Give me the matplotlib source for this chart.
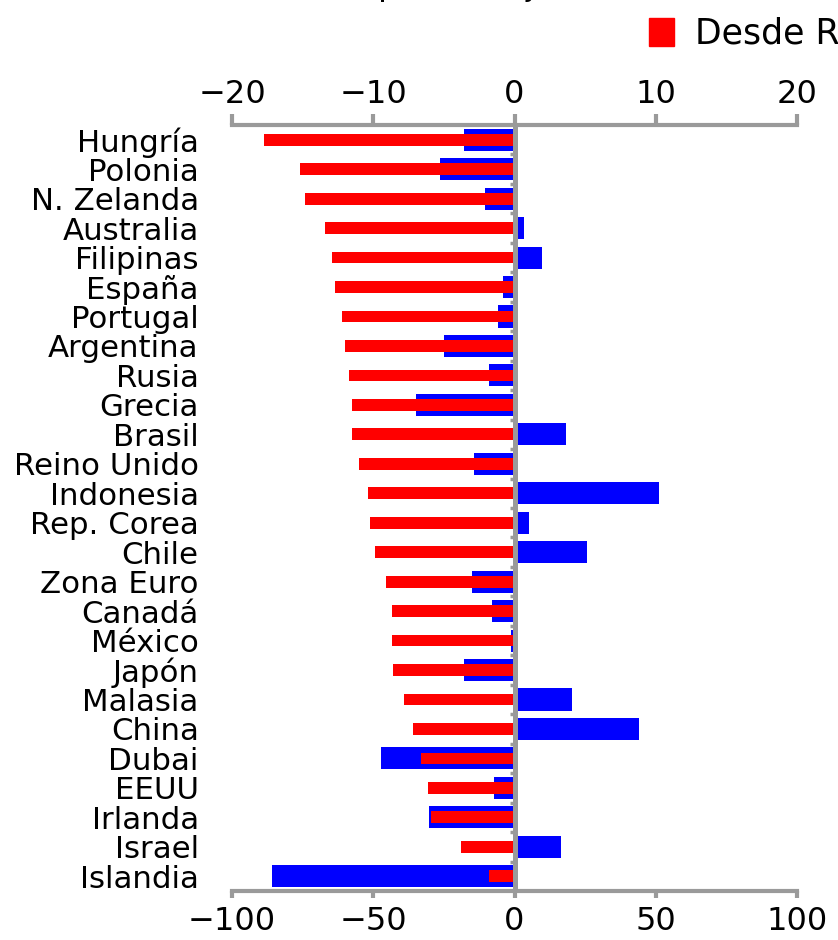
import matplotlib.pyplot as plt
from matplotlib.patches import Patch
import numpy as np

paises = ["Hungría", "Polonia", "N. Zelanda", "Australia", "Filipinas", "España",
          "Portugal", "Argentina", "Rusia", "Grecia", "Brasil", "Reino Unido",
          "Indonesia", "Rep. Corea", "Chile", "Zona Euro", "Canadá", "México",
          "Japón", "Malasia", "China", "Dubai", "EEUU", "Irlanda", "Israel", "Islandia"]

# eje superior (-20 a 20)
desde_rf = [-17.7, -15.2, -14.8, -13.4, -12.9, -12.7, -12.2, -12.0, -11.7, -11.5,
            -11.5, -11.0, -10.4, -10.2, -9.9, -9.1, -8.7, -8.7, -8.6, -7.8,
            -7.2, -6.6, -6.1, -5.9, -3.8, -1.8]

# eje inferior (-100 a 100)
otra = [-18.0, -26.5, -10.6, 3.5, 9.6, -3.9, -5.7, -24.8, -9.2, -34.7,
        18.1, -14.2, 51.0, 5.3, 25.8, -14.9, -8.1, -1.4, -18.0, 20.5,
        44.2, -47.1, -7.4, -30.4, 16.3, -85.7]

gris = "#9a9a9a"
y = np.arange(len(paises))

fig = plt.figure(figsize=(8.38, 9.40), dpi=100)
ax = fig.add_axes([232 / 838, 49 / 940, 565 / 838, 766 / 940])

ax.barh(y, otra, height=0.75, color="#0000ff")
ax.set_xlim(-100, 100)
ax.set_ylim(len(paises) - 0.5, -0.5)
ax.set_xticks([-100, -50, 0, 50, 100])
ax.set_yticks(y, labels=paises)
ax.tick_params(axis="y", length=0, pad=24, labelsize=22.2)
ax.tick_params(axis="x", length=5, width=3, color=gris, pad=6, labelsize=23)
for s in ["left", "right", "top"]:
    ax.spines[s].set_visible(False)
ax.spines["bottom"].set_color(gris)
ax.spines["bottom"].set_linewidth(3)

ax2 = ax.twiny()
ax2.barh(y, desde_rf, height=0.4, color="#ff0000")
ax2.set_xlim(-20, 20)
ax2.set_xticks([-20, -10, 0, 10, 20])
ax2.tick_params(axis="x", length=8, width=3, color=gris, pad=3, labelsize=23)
for s in ["left", "right", "bottom"]:
    ax2.spines[s].set_visible(False)
ax2.spines["top"].set_color(gris)
ax2.spines["top"].set_linewidth(3)

# linea del cero y marcas entre paises
ax2.axvline(0, color=gris, lw=3.6, zorder=5)
ax2.hlines(y[:-1] + 0.5, -0.35, 0, color=gris, lw=2.5, zorder=5)

fig.text(365 / 838, 1 + 5 / 940, "(porcentaje)", fontsize=24, va="baseline", ha="left")

fig.legend(handles=[Patch(color="#ff0000", label="Desde RF")],
           loc="upper left", bbox_to_anchor=(649 / 838, 1 - 17 / 940),
           frameon=False, fontsize=25, handlelength=0.72, handleheight=0.85,
           handletextpad=0.6, borderpad=0, borderaxespad=0)

fig.savefig("out.png", dpi=100)
plt.close()
